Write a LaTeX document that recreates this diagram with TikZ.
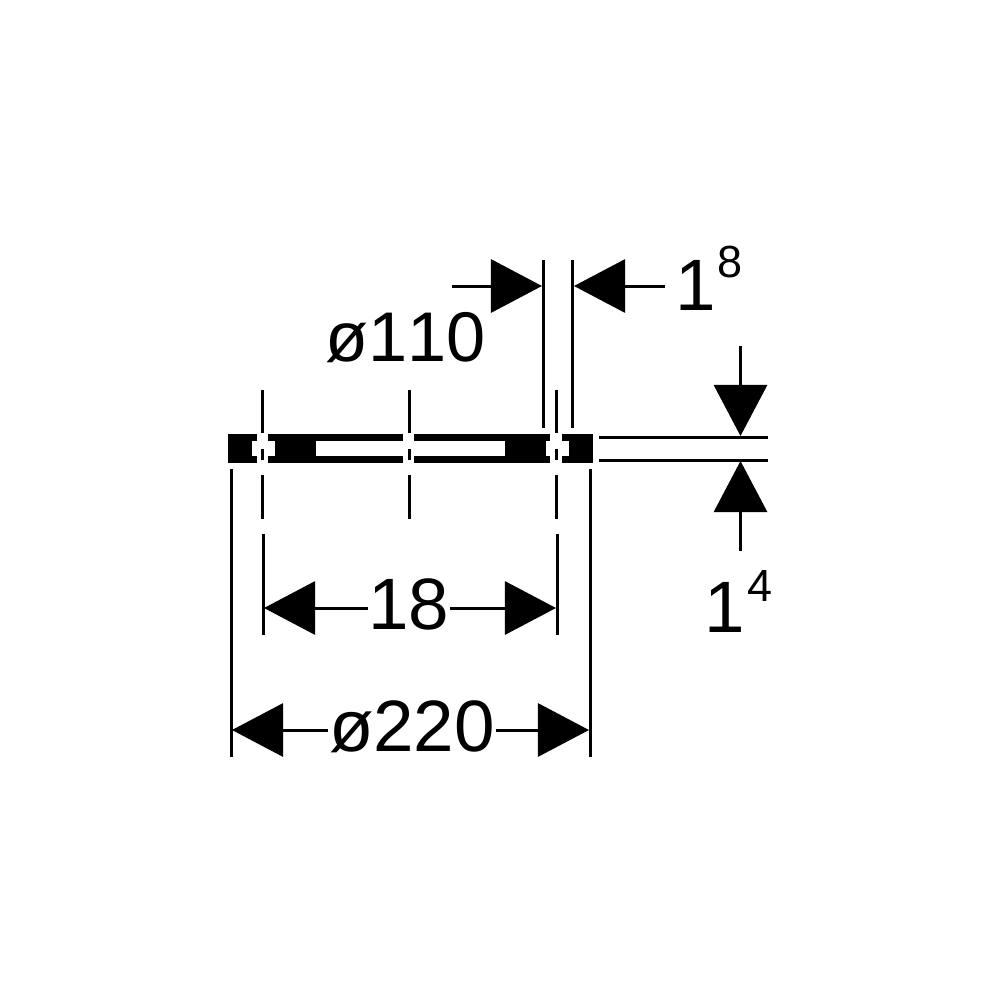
\documentclass[tikz,border=0pt]{standalone}
\usepackage{fontspec}
\setmainfont[Kerning=Off]{Liberation Sans}
\usetikzlibrary{arrows.meta}
\tikzstyle{sheet} = [x = .01cm, y = -.01cm]
\tikzstyle{extLine} = [color=black, line width=.03cm]
\tikzstyle{dimArrow} = [extLine, -{Triangle[length=.51cm, width=.53cm]}]
\tikzstyle{plateStyle} = [fill=black, draw=none]
\tikzstyle{dimText} = [font=\fontsize{20.7}{21}\selectfont, inner sep=.03cm]
\tikzstyle{supText} = [font=\fontsize{12.8}{13}\selectfont, inner sep=0pt]
\newcommand{\plateBlock}[2]{\fill [plateStyle] (#1,434) rectangle (#2,463);}
\newcommand{\plateBars}[2]{
  \fill [plateStyle] (#1,434) rectangle (#2,441);
  \fill [plateStyle] (#1,456) rectangle (#2,463);
}
\newcommand{\axisLine}[1]{
  \draw [extLine] (#1,390) -- (#1,433);
  \draw [extLine] (#1,449) -- (#1,460);
  \draw [extLine] (#1,475) -- (#1,519);
}
\begin{document}
\begin{tikzpicture}[sheet]
  \useasboundingbox (0,0) rectangle (1000,1000);
  % plate
  \plateBlock{228}{252}
  \plateBars{252}{257}
  \plateBars{268}{403}
  \plateBlock{275}{316}
  \plateBars{414}{550}
  \plateBlock{505}{546}
  \plateBars{562}{593}
  \plateBlock{569}{593}
  \foreach \axis in {262,409,556} {
    \axisLine{\axis}
  }
  % extension lines
  \draw [extLine] (543,260) -- (543,428);
  \draw [extLine] (572,260) -- (572,428);
  \draw [extLine] (231,469) -- (231,757);
  \draw [extLine] (590,469) -- (590,757);
  \draw [extLine] (263,534) -- (263,635);
  \draw [extLine] (557,534) -- (557,635);
  \draw [extLine] (599,437) -- (768,437);
  \draw [extLine] (599,460) -- (768,460);
  % labels
  \node [dimText, font=\fontsize{20}{21}\selectfont] (bore) at (405.5,338) {ø110};
  \node [dimText, inner sep=0pt] (pitch) at (409,604) {18};
  \node [dimText, inner sep=0pt] (outer) at (412,727) {ø220};
  \node [dimText, anchor=west] (widthBase) at (672,285) {1};
  \node [supText] (widthSup) at (730,262) {8};
  \node [dimText, anchor=west] (heightBase) at (701,607) {1};
  \node [supText] (heightSup) at (760,586) {4};
  % dimension arrows
  \coordinate (widthLeftEnd) at (452,286);
  \coordinate (widthLeftTip) at (542,286);
  \coordinate (widthRightEnd) at (665,286);
  \coordinate (widthRightTip) at (574,286);
  \coordinate (heightTopEnd) at (740.5,346);
  \coordinate (heightTopTip) at (740.5,436);
  \coordinate (heightLowEnd) at (740.5,551);
  \coordinate (heightLowTip) at (740.5,461);
  \coordinate (pitchLeftTip) at (264,608);
  \coordinate (pitchRightTip) at (556,608);
  \coordinate (outerLeftTip) at (232,730);
  \coordinate (outerRightTip) at (589,730);
  \draw [dimArrow] (widthLeftEnd) -- (widthLeftTip);
  \draw [dimArrow] (widthRightEnd) -- (widthRightTip);
  \draw [dimArrow] (heightTopEnd) -- (heightTopTip);
  \draw [dimArrow] (heightLowEnd) -- (heightLowTip);
  \draw [dimArrow] (pitch.west |- pitchLeftTip) -- (pitchLeftTip);
  \draw [dimArrow] (pitch.east |- pitchRightTip) -- (pitchRightTip);
  \draw [dimArrow] (outer.west |- outerLeftTip) -- (outerLeftTip);
  \draw [dimArrow] (outer.east |- outerRightTip) -- (outerRightTip);
\end{tikzpicture}
\end{document}
